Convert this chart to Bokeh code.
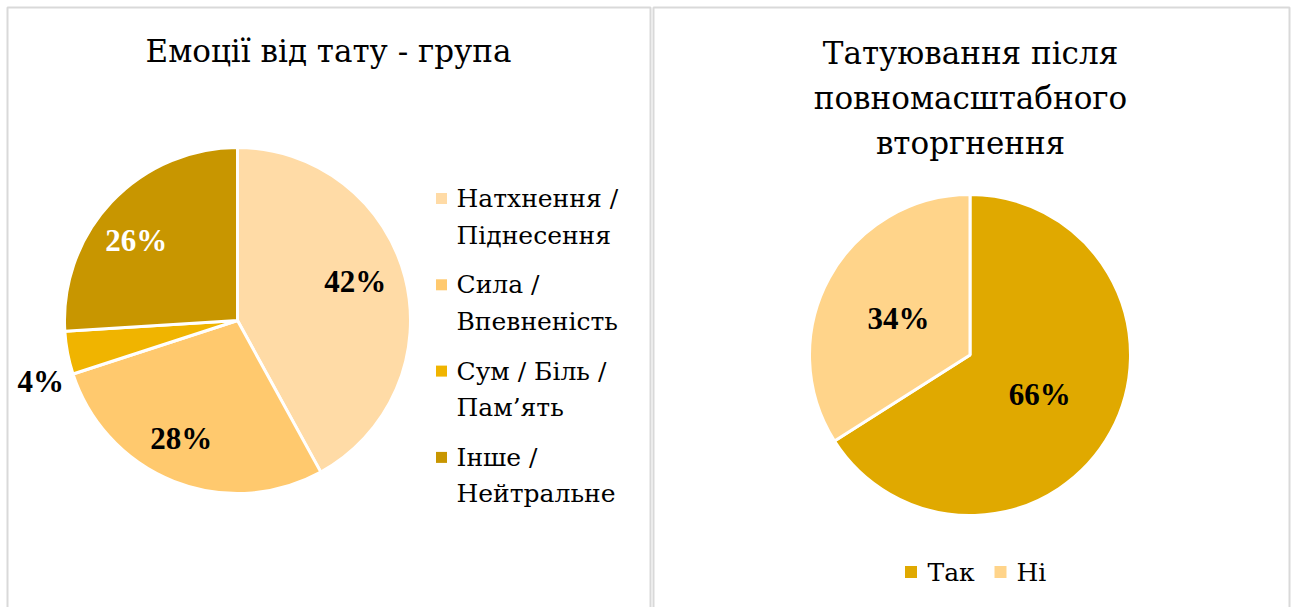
import math
import textwrap
import numpy as np
from bokeh.plotting import figure
from bokeh.models import ColumnDataSource, Range1d
from bokeh.core.properties import value
from bokeh.embed import file_html
from bokeh.resources import INLINE

# ---------------- data ----------------
title_left = "Емоції від тату - група"
emotion_categories = ["Натхнення / Піднесення", "Сила / Впевненість",
                      "Сум / Біль / Пам’ять", "Інше / Нейтральне"]
emotion_values = [42, 28, 4, 26]
emotion_colors = ["#FFDBA6", "#FFC96E", "#F0B400", "#C89600"]

title_right_lines = ["Татуювання після", "повномасштабного", "вторгнення"]
tattoo_categories = ["Так", "Ні"]
tattoo_values = [66, 34]
tattoo_colors = ["#E0A900", "#FFD48A"]

# ---------------- layout (pixel space of the page) ----------------
W, H = 1293, 607
NUM_FONT = value("Liberation Serif")
CYR_FONT = value("DejaVu Serif")
TITLE_SIZE = "31px"
LEGEND_SIZE = "25px"


def X(px):
    return px


def Y(py):
    return H - py


p = figure(width=W, height=H, output_backend="svg", toolbar_location=None,
           x_range=Range1d(0, W), y_range=Range1d(0, H), min_border=0)
p.axis.visible = False
p.grid.visible = False
p.outline_line_color = None
p.background_fill_color = "white"

# panel borders
border = "#D9D9D9"
p.multi_line(xs=[[X(7), X(7), X(650), X(650)], [X(653), X(653), X(1289), X(1289)]],
             ys=[[0, Y(7), Y(7), 0], [0, Y(7), Y(7), 0]],
             line_color=border, line_width=2)


def pie(cx, cy, r, values, colors, label_r, label_dang, label_colors):
    total = float(sum(values))
    fr = np.array(values) / total
    cum = np.concatenate([[0.0], np.cumsum(fr)])
    start = [math.pi / 2 - 2 * math.pi * cum[i] for i in range(len(values))]
    end = [math.pi / 2 - 2 * math.pi * cum[i + 1] for i in range(len(values))]
    mid = [(cum[i] + cum[i + 1]) / 2 * 360 + label_dang[i] for i in range(len(values))]
    lx = [cx + r * label_r[i] * math.sin(math.radians(mid[i])) for i in range(len(values))]
    ly = [cy + r * label_r[i] * math.cos(math.radians(mid[i])) for i in range(len(values))]
    labels = [f"{round(v / total * 100)}%" for v in values]
    src = ColumnDataSource(dict(start=start, end=end, color=colors, lx=lx, ly=ly,
                                label=labels, lc=label_colors))
    p.wedge(x=cx, y=cy, radius=r, start_angle="start", end_angle="end",
            direction="clock", fill_color="color", line_color="white",
            line_width=3, source=src)
    p.text(x="lx", y="ly", text="label", text_align="center", text_baseline="middle",
           text_font=NUM_FONT, text_font_style="bold", text_font_size="31px",
           text_color="lc", source=src)


# left panel
p.text(x=[X(328)], y=[Y(50)], text=[title_left], text_align="center",
       text_baseline="middle", text_font=CYR_FONT, text_font_size=TITLE_SIZE,
       text_color="#000000")
pie(X(237), Y(320), 173, emotion_values, emotion_colors,
    [0.717, 0.757, 1.19, 0.746], [-3.9, 3.8, -6.4, -4.8],
    ["#000000", "#000000", "#000000", "#FFFFFF"])

sq_x, sq_y, tx, ty, tt = [], [], [], [], []
for i, cat in enumerate(emotion_categories):
    mid_y = 198 + i * 86.3
    sq_x.append(X(441))
    sq_y.append(Y(mid_y))
    for k, line in enumerate(textwrap.wrap(cat, width=12)):
        tx.append(X(456))
        ty.append(Y(mid_y + k * 36.5))
        tt.append(line)
p.scatter(x=sq_x, y=sq_y, marker="square", size=11, fill_color=emotion_colors,
          line_color=None)
p.text(x=tx, y=ty, text=tt, text_align="left", text_baseline="middle",
       text_font=CYR_FONT, text_font_size=LEGEND_SIZE, text_color="#000000")

# right panel
p.text(x=[X(970)] * 3, y=[Y(52 + 45 * k) for k in range(3)], text=title_right_lines,
       text_align="center", text_baseline="middle", text_font=CYR_FONT,
       text_font_size=TITLE_SIZE, text_color="#000000")
pie(X(969.5), Y(354.5), 160.5, tattoo_values, tattoo_colors,
    [0.5, 0.5], [0.8, -1.8], ["#000000", "#000000"])

p.scatter(x=[X(910.5), X(1000)], y=[Y(571.5)] * 2, marker="square", size=12,
          fill_color=tattoo_colors, line_color=None)
p.text(x=[X(927), X(1016)], y=[Y(571.5)] * 2, text=tattoo_categories,
       text_align="left", text_baseline="middle", text_font=CYR_FONT,
       text_font_size=LEGEND_SIZE, text_color="#000000")

open("out.html", "w").write(file_html(p, INLINE))
